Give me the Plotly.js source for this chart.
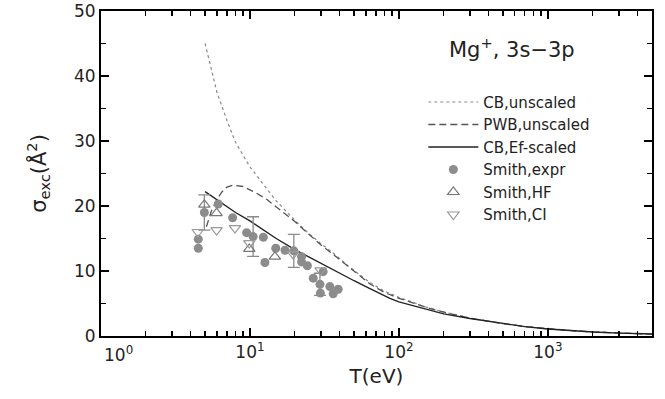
<!DOCTYPE html>
<html>
<head>
<meta charset="utf-8">
<script src="https://cdn.plot.ly/plotly-3.0.1.min.js"></script>
<style>html,body{margin:0;padding:0;background:#fff;}#plot{width:665px;height:399px;}</style>
</head>
<body>
<div id="plot"></div>
<script>
// CB, unscaled
const cbT = [5,5.4,6,7,8,10,12,15,20,25,30,36,45,55,64,80,100,150,200,300,500,700,1000,1500,2000,3000,5000];
const cbS = [45,42,37.5,33.2,29.8,26.0,23.6,20.8,17.8,15.7,14.2,12.8,10.9,9.3,8.2,6.9,5.95,4.5,3.7,2.77,1.9,1.47,1.1,0.8,0.63,0.45,0.29];
// PWB, unscaled
const pwbT = [5.1,5.5,6,6.5,7,7.7,9,11,13,15,20,25,30,36,45,55,64,80,100,150,200,300,500,700,1000,1500,2000,3000,5000];
const pwbS = [16.8,19.2,21.0,22.2,22.9,23.2,23.0,22.0,21.0,19.9,17.6,15.6,14.0,12.6,10.8,9.1,8.0,6.7,5.8,4.45,3.67,2.75,1.89,1.46,1.1,0.8,0.63,0.45,0.29];
// CB, Ef-scaled
const efT = [5,6,7,8,10,12,15,20,25,30,40,50,60,70,87,100,150,200,300,350,500,700,1000,1500,2000,3000,5000];
const efS = [22.2,21.0,19.9,19.0,17.7,16.5,15.0,13.3,12.1,11.2,9.7,8.5,7.6,6.8,5.8,5.25,4.1,3.4,2.7,2.46,1.9,1.45,1.08,0.79,0.62,0.45,0.3];
// Smith, expr
const exT = [4.5,4.5,4.94,6.13,7.65,9.5,10.5,12.3,12.6,14.9,17.2,19.7,22.2,22.2,24.3,26.6,29.5,31,29.7,34.4,36.2,39.1];
const exS = [14.9,13.5,19.0,20.3,18.2,15.9,15.3,15.2,11.3,13.5,13.2,13.1,12.2,11.4,10.8,8.9,7.95,9.9,6.6,7.6,6.5,7.2];
// Smith, expr error bars
const errT = [4.94,10.5,19.7,29.5];
const errS = [19.0,15.3,13.1,7.95];
const errV = [2.7,3.05,2.55,1.7];
// Smith, HF
const hfT = [4.94,5.97,9.9,14.7];
const hfS = [20.2,18.9,13.4,12.2];
// Smith, CI
const ciT = [4.46,5.97,7.93,9.9,19.5,29.8];
const ciS = [16.0,16.3,16.6,14.3,12.6,10.1];
// axis ticks
const xTickVals = [1,10,100,1000];
const xTickText = ['','10<sup>1</sup>','10<sup>2</sup>','10<sup>3</sup>'];
const xFirstLabel = '10<sup>0</sup>';
const xMinorTicks = [2,3,4,5,6,7,8,9,20,30,40,50,60,70,80,90,200,300,400,500,600,700,800,900,2000,3000,4000,5000];
const yMinorTicks = [5,15,25,35,45];

const FONT = 'DejaVu Sans, Verdana, sans-serif';
const XR = [0, Math.log10(5000)];
const traces = [
  {x: cbT, y: cbS, mode: 'lines', name: 'CB,unscaled',
   line: {color: '#8a8a8a', width: 1.2, dash: '3px,3px'}},
  {x: pwbT, y: pwbS, mode: 'lines', name: 'PWB,unscaled',
   line: {color: '#555', width: 1.3, dash: '7px,4px'}},
  {x: efT, y: efS, mode: 'lines', name: 'CB,Ef-scaled',
   line: {color: '#222', width: 1.4}},
  {x: errT, y: errS, mode: 'markers', showlegend: false, hoverinfo: 'skip',
   marker: {size: 1, color: 'rgba(0,0,0,0)'},
   error_y: {type: 'data', array: errV, visible: true, color: '#8a8a8a', thickness: 1.3, width: 6}},
  {x: exT, y: exS, mode: 'markers', name: 'Smith,expr',
   marker: {symbol: 'circle', size: 9, color: '#8c8c8c'}},
  {x: hfT, y: hfS, mode: 'markers', name: 'Smith,HF',
   marker: {symbol: 'triangle-up-open', size: 10, color: '#777', line: {width: 1.2}}},
  {x: ciT, y: ciS, mode: 'markers', name: 'Smith,CI',
   marker: {symbol: 'triangle-down-open', size: 10, color: '#999', line: {width: 1.2}}},
  {x: [], y: [], xaxis: 'x2', yaxis: 'y2', mode: 'markers', showlegend: false, hoverinfo: 'skip'}
];

const tickCommon = {ticks: 'inside', tickcolor: '#000', showgrid: false, zeroline: false};
const layout = {
  width: 665, height: 399,
  margin: {l: 101, r: 13, t: 11, b: 63},
  paper_bgcolor: '#fff', plot_bgcolor: '#fff',
  font: {family: FONT, color: '#222', size: 15},
  showlegend: true,
  legend: {x: 0.585, y: 0.77, xanchor: 'left', yanchor: 'top', bgcolor: 'rgba(0,0,0,0)',
           font: {family: FONT, size: 15, color: '#222'}, itemwidth: 50, tracegroupgap: 0},
  xaxis: Object.assign({}, tickCommon, {
    type: 'log', range: XR,
    tickmode: 'array', tickvals: xTickVals, ticktext: xTickText,
    ticklen: 8, tickwidth: 1.6,
    showline: true, linewidth: 2, linecolor: '#000', mirror: 'ticks',
    tickfont: {family: FONT, size: 17, color: '#222'},
    title: {text: 'T(eV)', font: {family: FONT, size: 20, color: '#222'}, standoff: 8}
  }),
  yaxis: Object.assign({}, tickCommon, {
    range: [0, 50], dtick: 10, tick0: 0,
    ticklen: 8, tickwidth: 1.6,
    showline: true, linewidth: 2, linecolor: '#000', mirror: 'ticks',
    tickfont: {family: FONT, size: 17, color: '#222'},
    title: {text: 'σ<sub>exc</sub>(Å<sup>2</sup>)', font: {family: FONT, size: 21, color: '#222'}, standoff: 22}
  }),
  xaxis2: Object.assign({}, tickCommon, {
    type: 'log', range: XR, overlaying: 'x', anchor: 'y2', side: 'bottom',
    tickmode: 'array', tickvals: xMinorTicks, ticklen: 5, tickwidth: 1.3,
    showticklabels: false, showline: false, mirror: 'ticks'
  }),
  yaxis2: Object.assign({}, tickCommon, {
    range: [0, 50], overlaying: 'y', anchor: 'x2', side: 'left',
    tickmode: 'array', tickvals: yMinorTicks, ticklen: 5, tickwidth: 1.3,
    showticklabels: false, showline: false, mirror: 'ticks'
  }),
  annotations: [
    {text: 'Mg<sup>+</sup>, 3s\u22123p', xref: 'paper', yref: 'paper', x: 0.746, y: 0.885,
     xanchor: 'center', yanchor: 'middle', showarrow: false,
     font: {family: FONT, size: 21, color: '#222'}},
    {text: xFirstLabel, xref: 'paper', yref: 'paper', x: 0, y: 0,
     xanchor: 'left', yanchor: 'top', xshift: 1, yshift: -5, showarrow: false,
     font: {family: FONT, size: 17, color: '#222'}}
  ]
};

Plotly.newPlot('plot', traces, layout, {staticPlot: true, displayModeBar: false});
</script>
</body>
</html>
